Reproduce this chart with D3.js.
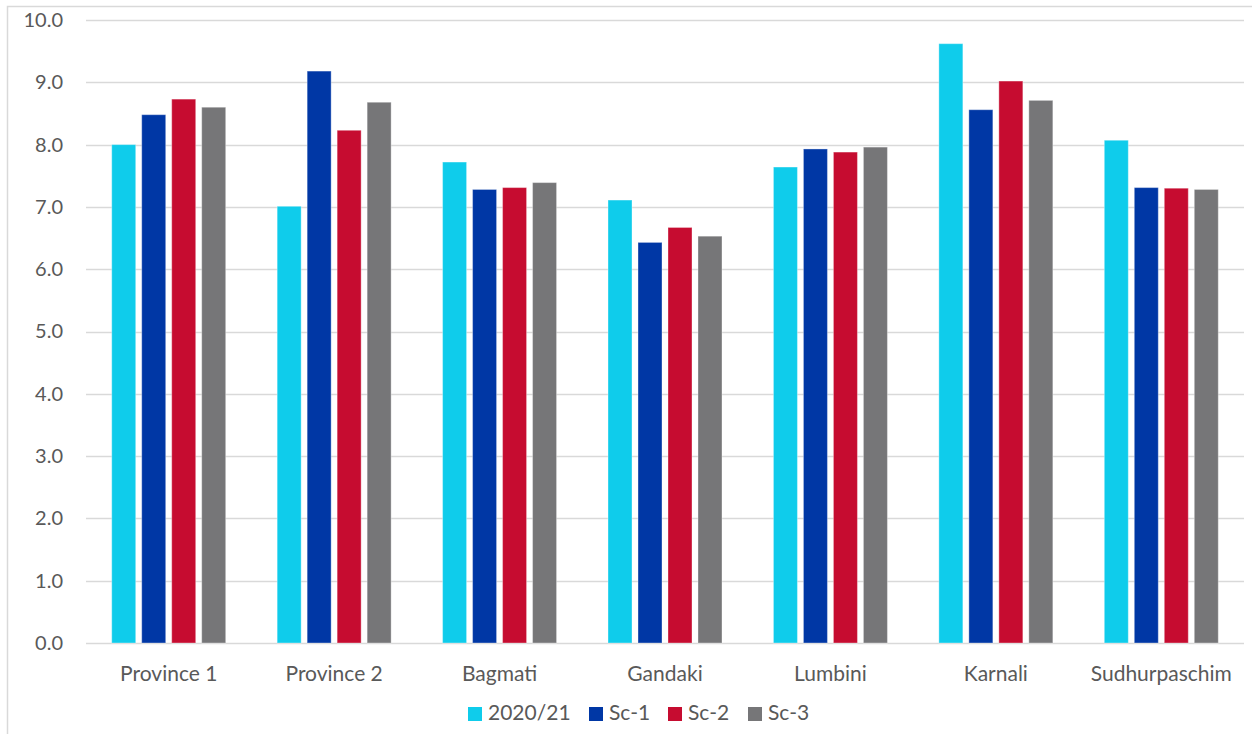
<!DOCTYPE html>
<html>
<head>
<meta charset="utf-8">
<script src="https://cdn.jsdelivr.net/npm/d3@7"></script>
<style>
  html, body { margin: 0; padding: 0; background: #fff; }
  svg { display: block; }
</style>
</head>
<body>
<script>
const categories = ["Province 1", "Province 2", "Bagmati", "Gandaki", "Lumbini", "Karnali", "Sudhurpaschim"];
const seriesNames = ["2020/21", "Sc-1", "Sc-2", "Sc-3"];
const s2020 = [8.00, 7.01, 7.72, 7.11, 7.64, 9.62, 8.07];
const sc1   = [8.48, 9.18, 7.28, 6.43, 7.93, 8.56, 7.31];
const sc2   = [8.73, 8.23, 7.31, 6.67, 7.88, 9.02, 7.30];
const sc3   = [8.60, 8.68, 7.39, 6.53, 7.96, 8.71, 7.28];
const yTicks = [0, 1, 2, 3, 4, 5, 6, 7, 8, 9, 10];
const colors = ["#0FCCEB", "#0037A5", "#C60C30", "#767678"];

const seriesValues = [s2020, sc1, sc2, sc3];
const W = 1252, H = 734;
const font = "Lato, 'Noto Sans', sans-serif";
const textColor = "#595959";

const svg = d3.select("body").append("svg").attr("width", W).attr("height", H);

// frame
svg.append("rect").attr("x", 7.5).attr("y", 6.5).attr("width", 1300).attr("height", 800)
  .attr("fill", "#fff").attr("stroke", "#D9D9D9").attr("stroke-width", 1.5);

const x0 = d3.scaleBand().domain(categories).range([86, 1244]).paddingInner(0.311).paddingOuter(0.1555);
const x1 = d3.scaleBand().domain(seriesNames).range([0, x0.bandwidth()]).paddingInner(0.2).paddingOuter(0);
const y = d3.scaleLinear().domain([0, 10]).range([643, 20]);

// gridlines
svg.append("g").selectAll("line").data(yTicks).join("line")
  .attr("x1", 86).attr("x2", 1244)
  .attr("y1", d => Math.round(y(d)) + 0.5).attr("y2", d => Math.round(y(d)) + 0.5)
  .attr("stroke", "#D9D9D9").attr("stroke-width", 1.5);

// y tick labels
const yAxis = d3.axisLeft(y).tickValues(yTicks).tickFormat(d3.format(".1f")).tickSize(0).tickPadding(0);
const gy = svg.append("g").attr("transform", "translate(63,0)").call(yAxis);
gy.select(".domain").remove();
gy.selectAll("text").attr("font-family", font).attr("font-size", 20).attr("fill", textColor);

// bars
const groups = svg.append("g").selectAll("g").data(categories).join("g")
  .attr("transform", d => `translate(${x0(d)},0)`);
groups.selectAll("rect").data((c, i) => seriesNames.map((s, j) => ({ s, j, v: seriesValues[j][i] })))
  .join("rect")
  .attr("x", d => x1(d.s))
  .attr("width", x1.bandwidth())
  .attr("y", d => y(d.v))
  .attr("height", d => y(0) - y(d.v))
  .attr("fill", d => colors[d.j])
  .attr("stroke", "rgba(255,255,255,0.35)").attr("stroke-width", 1);

// x axis labels
const xAxis = d3.axisBottom(x0).tickSize(0).tickPadding(0);
const gx = svg.append("g").attr("transform", "translate(0,681)").call(xAxis);
gx.select(".domain").remove();
gx.selectAll("text").attr("dy", 0).attr("font-family", font).attr("font-size", 21).attr("fill", textColor);

// legend
const legendX = [468, 589, 668, 748];
const lg = svg.append("g").selectAll("g").data(seriesNames).join("g")
  .attr("transform", (d, i) => `translate(${legendX[i]},0)`);
lg.append("rect").attr("x", 0).attr("y", 707).attr("width", 14).attr("height", 14)
  .attr("fill", (d, i) => colors[i]);
lg.append("text").attr("x", 20).attr("y", 720).text(d => d)
  .attr("font-family", font).attr("font-size", 21).attr("fill", textColor);
</script>
</body>
</html>
